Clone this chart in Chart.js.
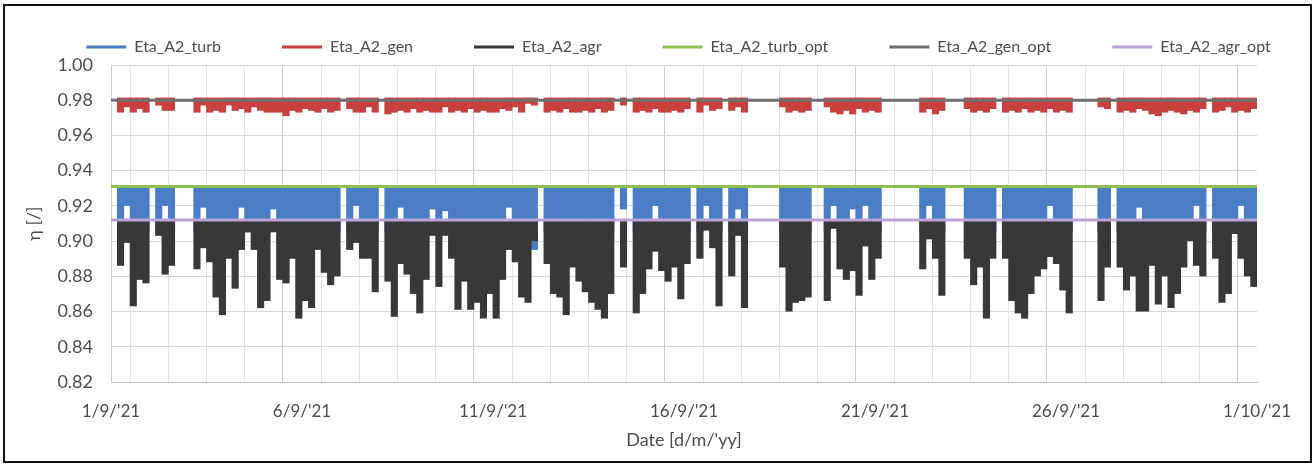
<!DOCTYPE html>
<html>
<head>
<meta charset="utf-8">
<script src="https://cdn.jsdelivr.net/npm/chart.js@4.4.1/dist/chart.umd.min.js"></script>
<style>
  body { margin: 0; background: #fff; }
  #wrap { position: relative; width: 1315px; height: 465px; }
  #frame { position: absolute; left: 3px; top: 4px; width: 1305px; height: 455px; border: 2px solid #111; pointer-events: none; }
</style>
</head>
<body>
<div id="wrap">
  <canvas id="chart" width="1315" height="465"></canvas>
  <div id="frame"></div>
</div>
<script>
// 4-hour bins, 6 per day, 1/9/'21 .. 1/10/'21 (null = unit off)
const binsPerDay = 6;
const dateLabels = ["1/9/'21", "6/9/'21", "11/9/'21", "16/9/'21", "21/9/'21", "26/9/'21", "1/10/'21"];

const etaTurb = [
  null, 0.905, 0.920, 0.905, 0.905, 0.905,
  null, 0.905, 0.920, 0.905, null, null,
  null, 0.905, 0.919, 0.905, 0.905, 0.905,
  0.905, 0.905, 0.919, 0.905, 0.905, 0.905,
  0.905, 0.918, 0.905, 0.905, 0.905, 0.905,
  0.905, 0.905, 0.905, 0.905, 0.905, 0.905,
  null, 0.905, 0.920, 0.905, 0.905, 0.905,
  null, 0.905, 0.905, 0.919, 0.905, 0.905,
  0.905, 0.905, 0.918, 0.905, 0.917, 0.905,
  0.905, 0.905, 0.905, 0.905, 0.905, 0.905,
  0.905, 0.905, 0.919, 0.905, 0.905, 0.905,
  0.895, null, 0.905, 0.905, 0.905, 0.905,
  0.905, 0.905, 0.905, 0.905, 0.905, 0.905,
  0.905, null, 0.918, null, 0.905, 0.905,
  0.905, 0.920, 0.905, 0.905, 0.905, 0.905,
  0.905, null, 0.905, 0.920, 0.905, 0.905,
  null, 0.905, 0.918, 0.905, null, null,
  null, null, null, 0.905, 0.905, 0.905,
  0.905, 0.905, null, null, 0.905, 0.920,
  0.905, 0.905, 0.918, 0.905, 0.920, 0.905,
  0.905, null, null, null, null, null,
  null, 0.905, 0.920, 0.905, 0.905, null,
  null, null, 0.893, 0.905, 0.905, 0.905,
  0.905, null, 0.905, 0.905, 0.905, 0.905,
  0.905, 0.905, 0.905, 0.920, 0.905, 0.905,
  0.905, null, null, null, null, 0.905,
  0.905, null, 0.905, 0.905, 0.905, 0.919,
  0.905, 0.905, 0.905, 0.905, 0.905, 0.905,
  0.905, 0.905, 0.920, 0.905, null, 0.905,
  0.905, 0.905, 0.905, 0.920, 0.905, 0.905
];

const etaGen = [
  null, 0.973, 0.976, 0.973, 0.975, 0.973,
  null, 0.977, 0.974, 0.974, null, null,
  null, 0.973, 0.977, 0.973, 0.974, 0.973,
  0.977, 0.974, 0.975, 0.973, 0.976, 0.974,
  0.973, 0.973, 0.973, 0.971, 0.974, 0.973,
  0.975, 0.974, 0.973, 0.975, 0.973, 0.974,
  null, 0.975, 0.973, 0.973, 0.976, 0.973,
  null, 0.972, 0.973, 0.974, 0.973, 0.975,
  0.973, 0.974, 0.973, 0.973, 0.976, 0.973,
  0.974, 0.973, 0.975, 0.973, 0.974, 0.973,
  0.973, 0.975, 0.974, 0.976, 0.973, 0.978,
  0.977, null, 0.973, 0.974, 0.973, 0.975,
  0.973, 0.973, 0.974, 0.973, 0.975, 0.973,
  0.974, null, 0.977, null, 0.973, 0.974,
  0.973, 0.975, 0.973, 0.973, 0.974, 0.973,
  0.975, null, 0.973, 0.977, 0.974, 0.975,
  null, 0.974, 0.976, 0.973, null, null,
  null, null, null, 0.976, 0.973, 0.974,
  0.973, 0.974, null, null, 0.976, 0.973,
  0.972, 0.974, 0.972, 0.975, 0.973, 0.974,
  0.973, null, null, null, null, null,
  null, 0.973, 0.975, 0.972, 0.974, null,
  null, null, 0.975, 0.973, 0.974, 0.973,
  0.975, null, 0.973, 0.974, 0.973, 0.975,
  0.973, 0.974, 0.973, 0.975, 0.973, 0.974,
  0.973, null, null, null, null, 0.976,
  0.975, null, 0.973, 0.974, 0.973, 0.975,
  0.974, 0.972, 0.971, 0.973, 0.974, 0.973,
  0.972, 0.974, 0.973, 0.975, null, 0.973,
  0.974, 0.976, 0.973, 0.974, 0.973, 0.975
];

const etaAgr = [
  null, 0.886, 0.899, 0.863, 0.878, 0.876,
  null, 0.903, 0.881, 0.886, null, null,
  null, 0.884, 0.896, 0.888, 0.868, 0.858,
  0.890, 0.873, 0.895, 0.905, 0.895, 0.862,
  0.866, 0.905, 0.878, 0.876, 0.890, 0.856,
  0.866, 0.862, 0.895, 0.882, 0.875, 0.880,
  null, 0.895, 0.899, 0.890, 0.890, 0.871,
  null, 0.877, 0.857, 0.887, 0.881, 0.870,
  0.859, 0.878, 0.903, 0.874, 0.903, 0.890,
  0.861, 0.877, 0.861, 0.865, 0.856, 0.870,
  0.856, 0.878, 0.895, 0.888, 0.868, 0.865,
  0.900, null, 0.887, 0.870, 0.868, 0.858,
  0.885, 0.877, 0.871, 0.865, 0.861, 0.856,
  0.870, null, 0.885, null, 0.859, 0.870,
  0.884, 0.894, 0.883, 0.877, 0.885, 0.867,
  0.887, null, 0.890, 0.906, 0.896, 0.863,
  null, 0.880, 0.903, 0.862, null, null,
  null, null, null, 0.885, 0.860, 0.865,
  0.866, 0.868, null, null, 0.866, 0.907,
  0.884, 0.878, 0.883, 0.869, 0.897, 0.878,
  0.890, null, null, null, null, null,
  null, 0.884, 0.901, 0.890, 0.869, null,
  null, null, 0.890, 0.875, 0.885, 0.856,
  0.890, null, 0.890, 0.866, 0.859, 0.856,
  0.870, 0.880, 0.884, 0.891, 0.887, 0.872,
  0.859, null, null, null, null, 0.866,
  0.885, null, 0.885, 0.872, 0.880, 0.860,
  0.860, 0.886, 0.864, 0.880, 0.862, 0.870,
  0.885, 0.900, 0.886, 0.880, null, 0.890,
  0.865, 0.870, 0.904, 0.890, 0.880, 0.874
];

// design optima
const etaTurbOpt = 0.931;
const etaGenOpt = 0.980;
const etaAgrOpt = 0.912;

const dayRange = [0, 30];

const txt = '#4d4d4d';
const font = 'Lato';

function points(values) {
  return values.map((v, i) => ({ x: (i + 0.5) / binsPerDay, y: v }));
}
function flat(v) {
  return dayRange.map(x => ({ x: x, y: v }));
}

const barCommon = { grouped: false, barPercentage: 1.12, categoryPercentage: 1, borderWidth: 0 };
const lineCommon = { type: 'line', pointRadius: 0, borderWidth: 3, fill: false, tension: 0 };

new Chart(document.getElementById('chart'), {
  type: 'bar',
  data: {
    datasets: [
      Object.assign({ label: 'Eta_A2_turb', data: points(etaTurb), base: etaTurbOpt,
        backgroundColor: '#4a7dc4', borderColor: '#4a7dc4', order: 5 }, barCommon),
      Object.assign({ label: 'Eta_A2_gen', data: points(etaGen), base: 0.9815,
        backgroundColor: '#c8413e', borderColor: '#c8413e', order: 4 }, barCommon),
      Object.assign({ label: 'Eta_A2_agr', data: points(etaAgr), base: etaAgrOpt,
        backgroundColor: '#383838', borderColor: '#383838', order: 3 }, barCommon),
      Object.assign({ label: 'Eta_A2_turb_opt', data: flat(etaTurbOpt),
        borderColor: '#8dc04f', backgroundColor: '#8dc04f', order: 2 }, lineCommon),
      Object.assign({ label: 'Eta_A2_gen_opt', data: flat(etaGenOpt),
        borderColor: '#6f6f6f', backgroundColor: '#6f6f6f', order: 1 }, lineCommon),
      Object.assign({ label: 'Eta_A2_agr_opt', data: flat(etaAgrOpt),
        borderColor: '#b9a3d8', backgroundColor: '#b9a3d8', order: 0 }, lineCommon)
    ]
  },
  options: {
    responsive: false,
    animation: false,
    // right padding is negative so the wide legend row fits on one line
    layout: { padding: { left: 12, right: -30, top: -22, bottom: 10 } },
    plugins: {
      tooltip: { enabled: false },
      legend: {
        position: 'top',
        maxHeight: 104,
        labels: {
          boxWidth: 40,
          boxHeight: 3,
          padding: 61,
          color: txt,
          font: { family: font, size: 16 },
          sort: (a, b) => a.datasetIndex - b.datasetIndex,
          generateLabels: chart => {
            const items = Chart.defaults.plugins.legend.labels.generateLabels(chart);
            items.forEach(it => { it.fillStyle = it.strokeStyle; it.lineWidth = 0; });
            return items;
          }
        }
      }
    },
    scales: {
      x: {
        type: 'linear',
        min: dayRange[0],
        max: dayRange[1],
        offset: false,
        grid: {
          drawTicks: false,
          color: c => (c.tick && Math.round(c.tick.value) % 5 === 0) ? '#cdcdcd' : '#e4e4e4'
        },
        border: { color: '#bfbfbf' },
        ticks: {
          stepSize: 1,
          autoSkip: false,
          maxRotation: 0,
          padding: 19,
          color: txt,
          font: { family: font, size: 17 },
          callback: v => (Math.round(v) % 5 === 0) ? dateLabels[Math.round(v) / 5] : ''
        },
        title: {
          display: true,
          text: "Date [d/m/'yy]",
          color: txt,
          font: { family: font, size: 18 },
          padding: { top: 0, bottom: 4 }
        },
        afterFit: s => { s.height = 73; }
      },
      y: {
        min: 0.82,
        max: 1.0,
        grid: { drawTicks: false, color: '#d9d9d9' },
        border: { color: '#cdcdcd' },
        ticks: {
          stepSize: 0.02,
          padding: 18,
          color: txt,
          font: { family: font, size: 18 },
          callback: v => v.toFixed(2)
        },
        title: {
          display: true,
          text: 'η [/]',
          color: txt,
          font: { family: font, size: 18 },
          padding: { top: 11, bottom: 0 }
        },
        afterFit: s => { s.width = 99; }
      },
      // empty right-hand axis, only reserves the space right of the plot
      yRight: {
        position: 'right',
        display: true,
        grid: { display: false },
        border: { display: false },
        ticks: { display: false },
        afterFit: s => { s.width = 88; }
      }
    }
  }
});
</script>
</body>
</html>
